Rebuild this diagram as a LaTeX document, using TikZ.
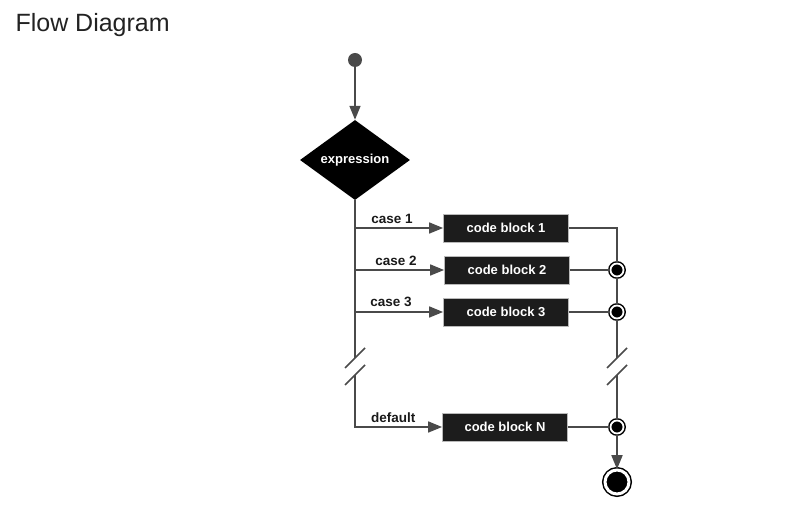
\documentclass[tikz,border=0pt]{standalone}
\usepackage{fontspec}
\setmainfont{Liberation Sans}
\usetikzlibrary{arrows.meta,shapes.geometric}

\definecolor{linegray}{HTML}{4A4A4A}
\definecolor{boxblack}{HTML}{1C1C1C}
\definecolor{titlegray}{HTML}{222222}

\tikzset{
  flowline/.style={draw=linegray,line width=1.7pt},
  flowarrow/.style={flowline,-{Triangle[length=14pt,width=11pt]}},
  codeblock/.style={rectangle,fill=boxblack,draw=gray!55,line width=0.8pt,
    minimum width=125pt,minimum height=28pt,inner sep=0pt,text=white,
    font=\bfseries\fontsize{13}{15}\selectfont},
  decision/.style={diamond,fill=black,inner sep=0pt,aspect=1.375,
    minimum width=110pt,minimum height=80pt,text=white,
    font=\bfseries\fontsize{13}{15}\selectfont},
  caselabel/.style={above,inner sep=4pt,text=black!90,
    font=\bfseries\fontsize{13.5}{15}\selectfont},
  startdot/.style={circle,fill=linegray,minimum size=14pt,inner sep=0pt},
  joint/.style={circle,fill=black,draw=black,double=white,double distance=1.8pt,
    line width=1.5pt,minimum size=13pt,inner sep=0pt},
  finalnode/.style={circle,fill=black,draw=black,double=white,double distance=3pt,
    line width=1.5pt,minimum size=24pt,inner sep=0pt}
}

\begin{document}
\begin{tikzpicture}[x=1pt,y=-1pt]

	\useasboundingbox (0,0) rectangle (807,518);

	\node[anchor=west,text=titlegray,font=\fontsize{25}{30}\selectfont] (title) at (12,25) {Flow Diagram};

	\node[startdot] (start) at (355,60) {};
	\node[decision] (expr) at (355,160) {expression};
	\draw[flowarrow] (start) -- (expr.north);

	\node[codeblock] (b1) at (506,228) {code block 1};
	\node[codeblock] (b2) at (507,270) {code block 2};
	\node[codeblock] (b3) at (506,312) {code block 3};
	\node[codeblock] (bN) at (505,427) {code block N};

	% left trunk with break
	\coordinate (c1) at (355,228);
	\coordinate (c2) at (355,270);
	\coordinate (c3) at (355,312);
	\coordinate (lgapTop) at (355,358);
	\coordinate (lgapBot) at (355,375);

	\draw[flowline] (expr.south) -- (lgapTop);
	\draw[flowline] (lgapTop) ++(-10,10) -- ++(20,-20);
	\draw[flowline] (lgapBot) ++(-10,10) -- ++(20,-20);

	\draw[flowarrow] (c1) -- node[caselabel,pos=0.42] {case 1} (b1.west);
	\draw[flowarrow] (c2) -- node[caselabel,pos=0.46] {case 2} (b2.west);
	\draw[flowarrow] (c3) -- node[caselabel,pos=0.41] {case 3} (b3.west);
	\draw[flowarrow] (lgapBot) |- node[caselabel,pos=0.72] {default} (bN.west);

	% right side with junctions
	\node[joint] (j2) at (617,270) {};
	\node[joint] (j3) at (617,312) {};
	\node[joint] (jN) at (617,427) {};
	\node[finalnode] (final) at (617,482) {};
	\coordinate (rgapTop) at (617,358);
	\coordinate (rgapBot) at (617,375);

	\draw[flowline] (b1.east) -| (j2.north);
	\draw[flowline] (b2.east) -- (j2.west);
	\draw[flowline] (b3.east) -- (j3.west);
	\draw[flowline] (bN.east) -- (jN.west);
	\draw[flowline] (j2.south) -- (j3.north);
	\draw[flowline] (j3.south) -- (rgapTop);
	\draw[flowline] (rgapTop) ++(-10,10) -- ++(20,-20);
	\draw[flowline] (rgapBot) ++(-10,10) -- ++(20,-20);
	\draw[flowline] (rgapBot) -- (jN.north);
	\draw[flowarrow] (jN.south) -- (final.north);

\end{tikzpicture}
\end{document}
